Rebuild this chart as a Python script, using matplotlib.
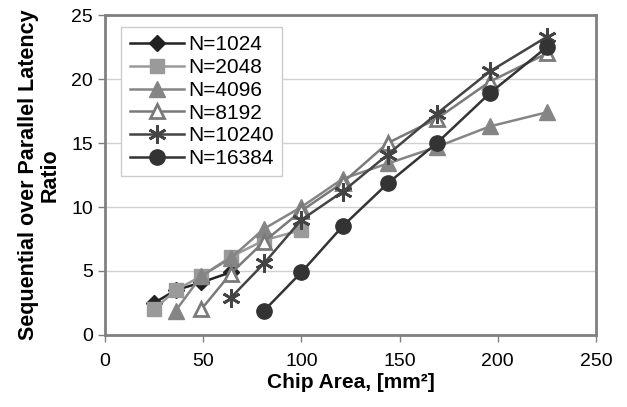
import matplotlib
matplotlib.use("Agg")
import matplotlib.pyplot as plt

plt.rcParams['font.family'] = ['Liberation Sans', 'DejaVu Sans']

# chip areas are square dies: 5x5 .. 15x15 mm
area = [25, 36, 49, 64, 81, 100, 121, 144, 169, 196, 225]

labels = ["N=1024", "N=2048", "N=4096", "N=8192", "N=10240", "N=16384"]
start_area = [25, 25, 36, 49, 64, 81]
ratio_1024 = [2.5, 3.5, 4.1, 4.9]
ratio_2048 = [2.0, 3.5, 4.6, 6.1, 7.4, 8.2]
ratio_4096 = [1.9, 4.6, 6.0, 8.3, 10.0, 12.2, 13.4, 14.7, 16.3, 17.4]
ratio_8192 = [2.0, 4.8, 7.3, 9.7, 11.9, 15.0, 16.9, 19.8, 22.0]
ratio_10240 = [2.9, 5.6, 9.0, 11.2, 14.1, 17.3, 20.6, 23.3]
ratio_16384 = [1.9, 4.9, 8.5, 11.85, 15.0, 18.9, 22.5]

series = [ratio_1024, ratio_2048, ratio_4096, ratio_8192, ratio_10240, ratio_16384]
styles = [
    dict(color='#222222', marker='D', markersize=8, mfc='#222222'),
    dict(color='#9a9a9a', marker='s', markersize=10, mfc='#9a9a9a'),
    dict(color='#858585', marker='^', markersize=11, mfc='#858585'),
    dict(color='#7a7a7a', marker='^', markersize=10, mfc='white', mew=2),
    dict(color='#444444', marker=(6, 2, 0), markersize=13, mew=2),
    dict(color='#333333', marker='o', markersize=11, mfc='#333333'),
]

fig = plt.figure(figsize=(6.27, 4.07), dpi=100)
ax = fig.add_axes([0.1675, 0.177, 0.783, 0.786])

for lab, start, vals, st in zip(labels, start_area, series, styles):
    i = area.index(start)
    xs = area[i:i + len(vals)]
    ax.plot(xs, vals, label=lab, linewidth=1.8, **st)

ax.set_xlim(0, 250)
ax.set_ylim(0, 25)
ax.set_xticks(range(0, 251, 50))
ax.set_yticks(range(0, 26, 5))
ax.yaxis.grid(True, color='#d0d0d0', linewidth=1)
ax.set_axisbelow(True)
for sp in ax.spines.values():
    sp.set_color('#808080')
    sp.set_linewidth(2)
ax.tick_params(colors='#808080', labelcolor='black', labelsize=14, width=1, length=5)
ax.tick_params(axis='x', pad=8)

ax.set_xlabel("Chip Area, [mm²]", fontsize=15, fontweight='bold', labelpad=2)
ax.set_ylabel("Sequential over Parallel Latency\nRatio", fontsize=15.5,
              fontweight='bold', linespacing=1.0, labelpad=8)

leg = ax.legend(loc='upper left', bbox_to_anchor=(0.033, 0.9625), fontsize=15,
                handlelength=2.6, handletextpad=0.2, borderpad=0.4,
                labelspacing=0.18, borderaxespad=0, fancybox=False, framealpha=1)
leg.get_frame().set_edgecolor('#cccccc')

fig.savefig("out.png", dpi=100)
